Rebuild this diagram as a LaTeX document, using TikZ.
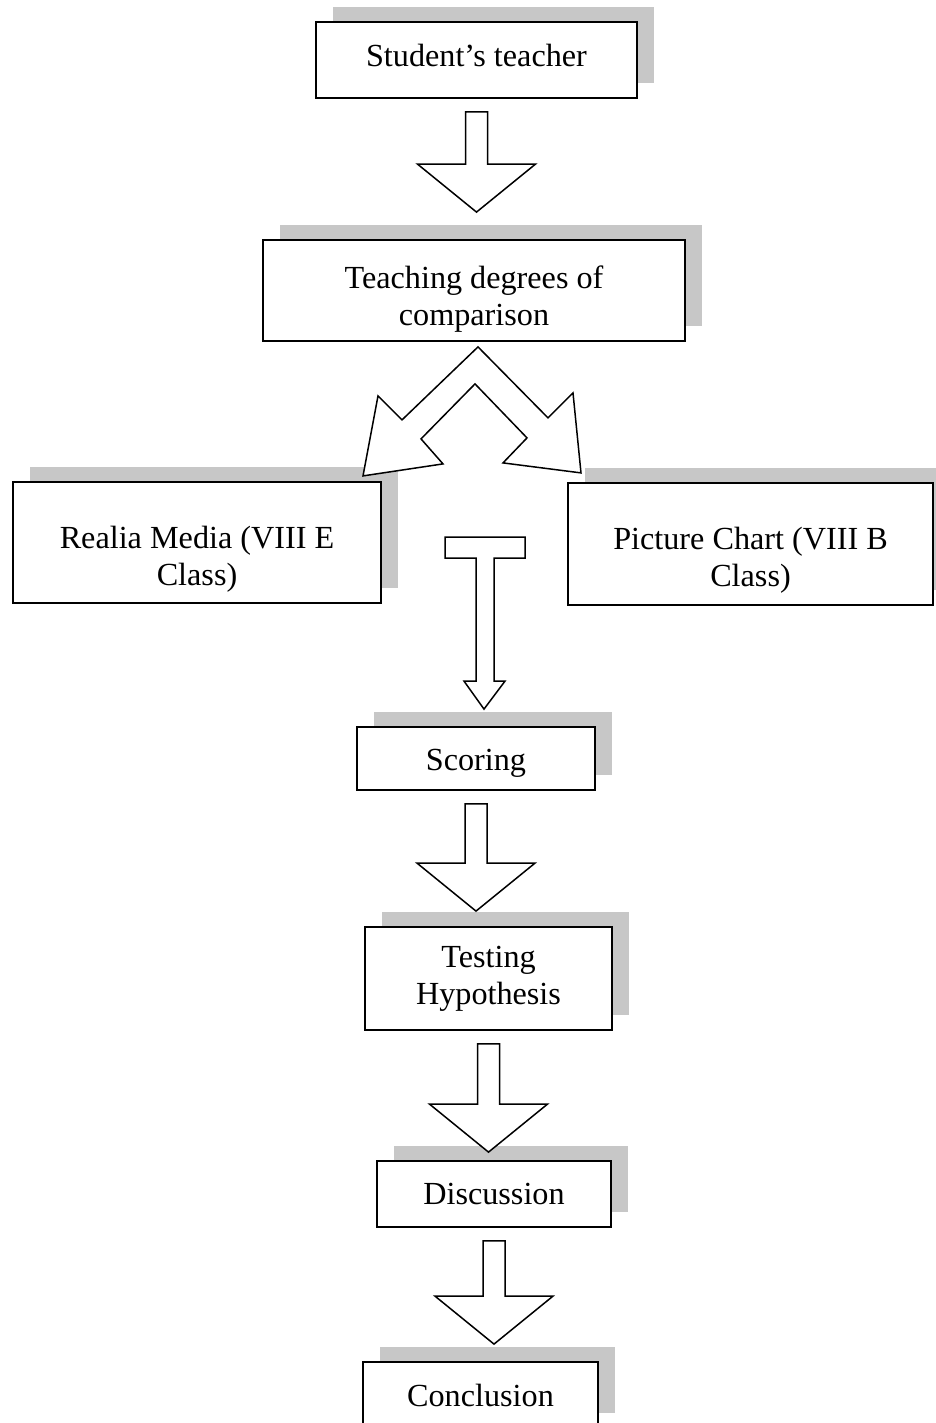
\documentclass[tikz,border=0pt]{standalone}
\usepackage{fontspec}
\setmainfont{Liberation Serif}
\usetikzlibrary{calc,shadows}

% hollow down arrow between two boxes: from, to, gap above the tip
\newcommand{\fatdown}[3]{%
  \draw[fatarrow] let \p1=(#1.south), \p2=(#2.north) in
    (\x1-5.5pt,\y1-6.5pt) -- (\x1+5.5pt,\y1-6.5pt) -- (\x1+5.5pt,\y2+#3+24pt)
    -- (\x1+29.5pt,\y2+#3+24pt) -- (\x1,\y2+#3) -- (\x1-29.5pt,\y2+#3+24pt)
    -- (\x1-5.5pt,\y2+#3+24pt) -- cycle;}

\begin{document}
\begin{tikzpicture}[x=0.5pt,y=-0.5pt,
  flowbox/.style={draw,fill=white,line width=0.9pt,align=center,inner sep=2pt,
    font=\fontsize{16.1}{18.5}\selectfont,
    drop shadow={shadow xshift=8.5pt,shadow yshift=7.5pt,fill=black!22,opacity=1}},
  textdown/.style={execute at begin node={\rule{0pt}{#1}}},
  textup/.style={execute at end node={\rule[-#1]{0pt}{#1}}},
  fatarrow/.style={draw,fill=white,line width=0.75pt,line join=miter}]
		\useasboundingbox (0,0) rectangle (936,1423);
		\node[flowbox,textup=5pt,minimum width=160.5pt,minimum height=38pt] (st) at (476.5,60) {Student’s teacher};
		\node[flowbox,minimum width=211pt,minimum height=50.5pt] (tdc) at (474,290.5) {\rule{0pt}{20pt}Teaching degrees of\\comparison};
		\node[flowbox,minimum width=184pt,minimum height=60.5pt] (rm) at (197,542.5) {\rule{0pt}{28pt}Realia Media (VIII E\\Class)};
		\node[flowbox,minimum width=182.5pt,minimum height=61pt] (pc) at (750.5,544) {\rule{0pt}{27pt}Picture Chart (VIII B\\Class)};
		\node[flowbox,textdown=15.5pt,minimum width=119pt,minimum height=31.5pt] (scr) at (476,758.5) {Scoring};
		\node[flowbox,minimum width=123.5pt,minimum height=51.5pt] (th) at (488.5,978.5) {Testing\\Hypothesis};
		\node[flowbox,minimum width=117pt,minimum height=33pt] (dis) at (494,1194) {Discussion};
		\node[flowbox,minimum width=117.5pt,minimum height=33pt] (con) at (480.5,1395) {Conclusion};
		% arrows
		\fatdown{st}{tdc}{13.5pt}
		\begin{scope}[shift={(tdc.south)}]
			\draw[fatarrow] (4,5) -- (-72,78) -- (-96,54) -- (-111,134) -- (-31,122) -- (-53,97)
				-- (1,42) -- (53,96) -- (29,121) -- (107,131) -- (99,51) -- (74,76) -- cycle;
		\end{scope}
		\begin{scope}[shift={(scr.north)}]
			\draw[fatarrow] (-31,-189) -- (49,-189) -- (49,-168) -- (18,-168) -- (18,-45) -- (29,-45)
				-- (8,-17) -- (-12,-45) -- (0,-45) -- (0,-168) -- (-31,-168) -- cycle;
		\end{scope}
		\fatdown{scr}{th}{7.5pt}
		\fatdown{th}{dis}{4pt}
		\fatdown{dis}{con}{8.5pt}
\end{tikzpicture}
\end{document}
